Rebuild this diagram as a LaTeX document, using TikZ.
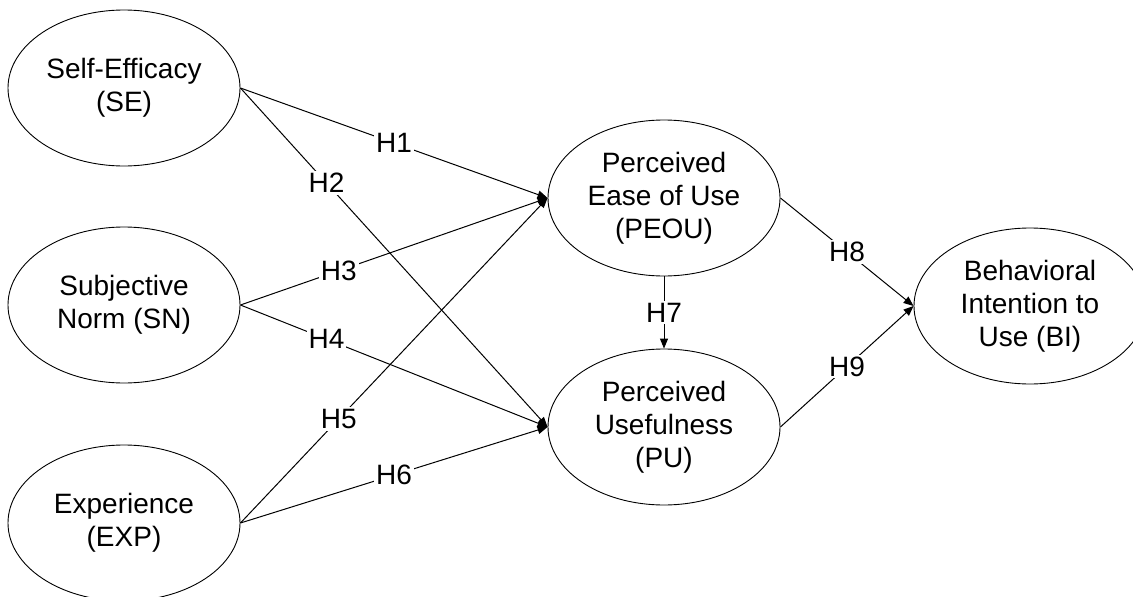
\documentclass[tikz,border=0pt]{standalone}
\usepackage{fontspec}
\setmainfont{Liberation Sans}
\usetikzlibrary{shapes.geometric, arrows.meta}

\begin{document}
\begin{tikzpicture}[
    x=1pt,y=-1pt,
    construct/.style={draw,black,ellipse,line width=0.9pt,minimum width=232pt,minimum height=156pt,inner sep=0pt,align=center,font=\fontsize{28}{33}\selectfont},
    path/.style={draw,black,line width=1pt,-{Triangle[length=10pt,width=8pt]}},
    hyp/.style={fill=white,inner sep=2pt,font=\fontsize{28}{33}\selectfont}
    ]
    \useasboundingbox (0, 0) rectangle (1133, 597);
    \clip (0, 0) rectangle (1133, 597);
    \node[construct] (se) at (124, 88) {Self-Efficacy\\(SE)};
    \node[construct] (sn) at (124, 305) {Subjective\\Norm (SN)};
    \node[construct] (exp) at (124, 523) {Experience\\(EXP)};
    \node[construct] (peou) at (664, 198) {Perceived\\Ease of Use\\(PEOU)};
    \node[construct] (pu) at (664, 427) {Perceived\\Usefulness\\(PU)};
    \node[construct] (bi) at (1030, 306) {Behavioral\\Intention to\\Use (BI)};
    \draw[path] (se.east) -- node[hyp, pos=.5] {H1} (peou.west);
    \draw[path] (se.east) -- node[hyp, pos=.28] {H2} (pu.west);
    \draw[path] (sn.east) -- node[hyp, pos=.32] {H3} (peou.west);
    \draw[path] (sn.east) -- node[hyp, pos=.28] {H4} (pu.west);
    \draw[path] (exp.east) -- node[hyp, pos=.32] {H5} (peou.west);
    \draw[path] (exp.east) -- node[hyp, pos=.5] {H6} (pu.west);
    \draw[path] (peou.south) -- node[hyp, pos=.5] {H7} (pu.north);
    \draw[path] (peou.east) -- node[hyp, pos=.5] {H8} (bi.west);
    \draw[path] (pu.east) -- node[hyp, pos=.5] {H9} (bi.west);
  \end{tikzpicture}
\end{document}
